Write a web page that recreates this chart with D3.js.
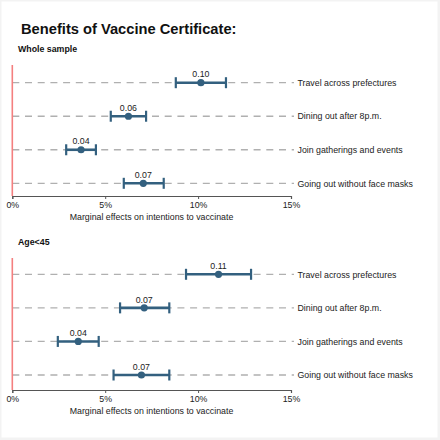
<!DOCTYPE html>
<html><head><meta charset="utf-8">
<script src="https://cdn.jsdelivr.net/npm/d3@7"></script>
<style>body{margin:0;background:#fff}svg{display:block}text{font-family:"Liberation Sans",Arial,sans-serif}</style>
</head><body><svg id="c" width="440" height="440"></svg>
<script>
const categories = ["Travel across prefectures","Dining out after 8p.m.","Join gatherings and events","Going out without face masks"];
const panelTitles = ["Whole sample","Age<45"];
// estimates, lower CI, upper CI (in %)
const wholeEst = [10.15, 6.25, 3.7, 7.05];
const wholeLo  = [8.8, 5.3, 2.9, 6.0];
const wholeHi  = [11.5, 7.2, 4.5, 8.15];
const wholeLbl = ["0.10","0.06","0.04","0.07"];
const youngEst = [11.1, 7.1, 3.55, 6.95];
const youngLo  = [9.35, 5.8, 2.45, 5.45];
const youngHi  = [12.85, 8.45, 4.65, 8.45];
const youngLbl = ["0.11","0.07","0.04","0.07"];
const xTicks = [0,5,10,15];
const xTitle = "Marginal effects on intentions to vaccinate";

const svg = d3.select("#c");
svg.append("rect").attr("width",440).attr("height",440).attr("fill","#f3f3f3");
svg.append("rect").attr("x",1.5).attr("y",1.5).attr("width",436).attr("height",436).attr("fill","#fff");

svg.append("text").attr("x",21).attr("y",33.5).attr("font-size",14.7).attr("font-weight","bold").attr("fill","#111")
  .text("Benefits of Vaccine Certificate:");

const x = d3.scaleLinear().domain([0,15]).range([12.3,291]);
const blue = "#33607f";
const fs = 8.8;

const panels = [
  {title:panelTitles[0], est:wholeEst, lo:wholeLo, hi:wholeHi, lbl:wholeLbl, titleY:51.5, top:65, rowY:[82.7,183.3], axisY:196},
  {title:panelTitles[1], est:youngEst, lo:youngLo, hi:youngHi, lbl:youngLbl, titleY:245, top:258, rowY:[274.3,375], axisY:390}
];

panels.forEach(p=>{
  const g = svg.append("g");
  g.append("text").attr("x",18).attr("y",p.titleY).attr("font-size",8.8).attr("font-weight","bold").attr("fill","#111").text(p.title);
  const y = d3.scalePoint().domain(categories).range(p.rowY);
  // dashed grid lines
  g.selectAll(".grid").data(categories).join("line")
    .attr("x1",x(0)).attr("x2",294).attr("y1",d=>y(d)).attr("y2",d=>y(d))
    .attr("stroke","#b0b0b0").attr("stroke-width",1.3).attr("stroke-dasharray","7,5.7");
  // category labels
  g.selectAll(".cat").data(categories).join("text")
    .attr("x",297.5).attr("y",d=>y(d)+3.2).attr("font-size",fs).attr("fill","#222").text(d=>d);
  // axis
  const ax = g.append("g").attr("transform",`translate(0,${p.axisY})`)
    .call(d3.axisBottom(x).tickValues(xTicks).tickFormat(d=>d+"%").tickSize(3).tickPadding(3));
  ax.select(".domain").attr("stroke","#555").attr("stroke-width",1.2);
  ax.selectAll(".tick line").attr("stroke","#555");
  ax.selectAll(".tick text").attr("font-size",fs).attr("fill","#222").attr("font-family","Liberation Sans, Arial, sans-serif");
  g.append("text").attr("x",151.5).attr("y",p.axisY+23.5).attr("text-anchor","middle").attr("font-size",fs).attr("fill","#222").text(xTitle);
  // red zero line
  g.append("line").attr("x1",x(0)).attr("x2",x(0)).attr("y1",p.top).attr("y2",p.axisY)
    .attr("stroke","#f47f7f").attr("stroke-width",1.6);
  // error bars
  const rows = categories.map((c,i)=>({c,est:p.est[i],lo:p.lo[i],hi:p.hi[i],lbl:p.lbl[i]}));
  const eb = g.selectAll(".eb").data(rows).join("g");
  eb.append("line").attr("x1",d=>x(d.lo)).attr("x2",d=>x(d.hi)).attr("y1",d=>y(d.c)).attr("y2",d=>y(d.c))
    .attr("stroke",blue).attr("stroke-width",2.6);
  eb.append("line").attr("x1",d=>x(d.lo)).attr("x2",d=>x(d.lo)).attr("y1",d=>y(d.c)-5.5).attr("y2",d=>y(d.c)+5.5)
    .attr("stroke",blue).attr("stroke-width",2.2);
  eb.append("line").attr("x1",d=>x(d.hi)).attr("x2",d=>x(d.hi)).attr("y1",d=>y(d.c)-5.5).attr("y2",d=>y(d.c)+5.5)
    .attr("stroke",blue).attr("stroke-width",2.2);
  eb.append("circle").attr("cx",d=>x(d.est)).attr("cy",d=>y(d.c)).attr("r",3.6).attr("fill",blue);
  eb.append("text").attr("x",d=>x(d.est)).attr("y",d=>y(d.c)-5.3).attr("text-anchor","middle")
    .attr("font-size",fs).attr("fill","#222").text(d=>d.lbl);
});
</script></body></html>
